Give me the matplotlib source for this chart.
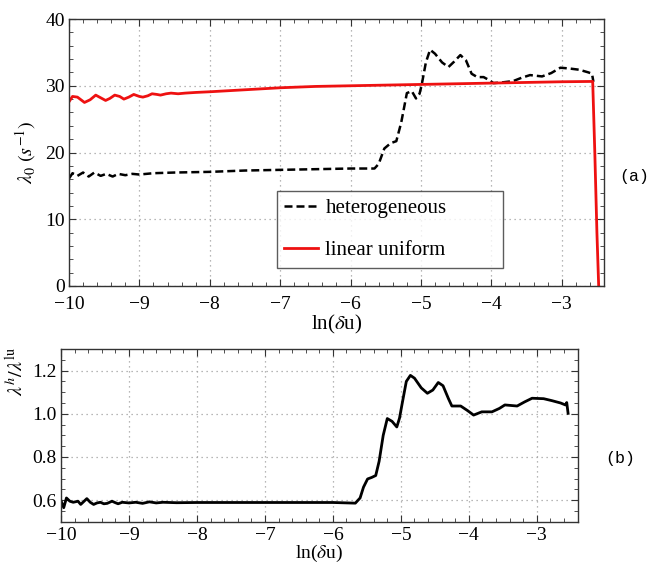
import numpy as np
import matplotlib
matplotlib.use("Agg")
import matplotlib.pyplot as plt
from matplotlib.ticker import MultipleLocator

plt.rcParams['font.family'] = ['Liberation Serif', 'DejaVu Serif']
plt.rcParams['mathtext.fontset'] = 'stix'

# panel (a): heterogeneous, dashed black
het_x = [-10.0, -9.95, -9.88, -9.8, -9.72, -9.64, -9.55, -9.47, -9.38, -9.3, -9.2,
         -9.1, -9.0, -8.8, -8.5, -8.0, -7.5, -7.0, -6.5, -6.0, -5.8, -5.66,
         -5.6, -5.52, -5.43, -5.35, -5.28, -5.2, -5.13, -5.07, -5.02, -4.99,
         -4.93, -4.87, -4.8, -4.7, -4.61, -4.53, -4.44, -4.36, -4.28, -4.2,
         -4.11, -4.04, -3.97, -3.85, -3.69, -3.57, -3.45, -3.28, -3.15, -3.02,
         -2.9, -2.75, -2.62, -2.57, -2.55]
het_y = [16.1, 16.9, 16.5, 17.0, 16.4, 17.0, 16.5, 16.8, 16.4, 16.8, 16.6,
         16.8, 16.7, 16.9, 17.0, 17.1, 17.3, 17.4, 17.5, 17.6, 17.6, 17.6,
         18.3, 20.6, 21.4, 21.7, 24.5, 28.9, 29.2, 28.1, 28.8, 30.1,
         33.5, 35.4, 34.8, 33.5, 32.8, 33.6, 34.6, 33.8, 31.8, 31.3,
         31.3, 30.9, 30.4, 30.5, 30.7, 31.2, 31.6, 31.4, 31.9, 32.7,
         32.6, 32.4, 32.0, 31.8, 30.6]

# panel (a): linear uniform, solid red
lin_x = [-10.0, -9.95, -9.88, -9.78, -9.7, -9.62, -9.55, -9.48, -9.42, -9.35,
         -9.28, -9.22, -9.15, -9.08, -9.0, -8.95, -8.88, -8.82, -8.75, -8.7,
         -8.62, -8.55, -8.45, -8.35, -8.2, -8.0, -7.5, -7.0, -6.5, -6.0,
         -5.0, -4.0, -3.0, -2.56, -2.53, -2.5, -2.475]
lin_y = [27.6, 28.4, 28.3, 27.5, 27.9, 28.6, 28.2, 27.8, 28.1, 28.6,
         28.4, 28.0, 28.3, 28.7, 28.4, 28.3, 28.5, 28.8, 28.7, 28.6,
         28.8, 28.9, 28.8, 28.9, 29.0, 29.1, 29.4, 29.7, 29.9, 30.0,
         30.2, 30.4, 30.6, 30.65, 20.0, 8.0, 0.0]

# panel (b): ratio lambda^h / lambda^lu
rat_x = [-10.0, -9.96, -9.92, -9.87, -9.82, -9.75, -9.71, -9.66, -9.62, -9.57,
         -9.52, -9.47, -9.42, -9.37, -9.32, -9.25, -9.2, -9.16, -9.1, -9.0,
         -8.9, -8.8, -8.7, -8.6, -8.5, -8.3, -8.0, -7.0, -6.0, -5.67,
         -5.6, -5.55, -5.49, -5.43, -5.37, -5.32, -5.26, -5.2, -5.13,
         -5.06, -5.02, -4.98, -4.92, -4.86, -4.8, -4.7, -4.61, -4.53,
         -4.45, -4.38, -4.3, -4.25, -4.12, -4.02, -3.93, -3.81, -3.66,
         -3.55, -3.47, -3.29, -3.18, -3.07, -2.9, -2.78, -2.65, -2.58,
         -2.56, -2.54]
rat_y = [0.597, 0.565, 0.61, 0.595, 0.59, 0.595, 0.58, 0.595, 0.607, 0.59,
         0.58, 0.587, 0.59, 0.583, 0.585, 0.595, 0.588, 0.583, 0.59, 0.587,
         0.59, 0.585, 0.592, 0.587, 0.59, 0.588, 0.589, 0.589, 0.589, 0.586,
         0.61, 0.66, 0.698, 0.705, 0.714, 0.78, 0.9, 0.978, 0.965,
         0.939, 0.98, 1.049, 1.15, 1.178, 1.165, 1.12, 1.095, 1.11,
         1.145, 1.13, 1.07, 1.036, 1.036, 1.015, 0.994, 1.009, 1.009,
         1.025, 1.041, 1.036, 1.055, 1.072, 1.07, 1.061, 1.05, 1.041,
         1.052, 1.002]

tick_font = 14
grid_kw = dict(color='#a0a0a0', linestyle=(0, (1, 3)), linewidth=0.9)


def style_axes(ax, xpad):
    for s in ax.spines.values():
        s.set_color('#333333')
        s.set_linewidth(1.0)
    ax.tick_params(which='both', direction='in', top=True, right=True,
                   color='#333333', labelsize=tick_font)
    ax.tick_params(which='major', length=5, width=0.8)
    ax.tick_params(which='minor', length=3, width=0.6)
    ax.tick_params(axis='x', which='major', pad=xpad)
    ax.tick_params(axis='y', which='major', pad=3)
    ax.grid(True, which='major', **grid_kw)
    ax.set_axisbelow(True)


fig = plt.figure(figsize=(6.49, 5.68), dpi=100)

ax1 = fig.add_axes([0.1063, 0.4965, 0.8243, 0.470])
ax1.plot(het_x, het_y, color='black', linestyle=(0, (3.2, 1.6)), linewidth=1.8,
         label='heterogeneous')
ax1.plot(lin_x, lin_y, color='#ee1111', linewidth=2.0, label='linear uniform')
ax1.set_xlim(-10, -2.4)
ax1.set_ylim(0, 40)
ax1.xaxis.set_major_locator(MultipleLocator(1))
ax1.xaxis.set_minor_locator(MultipleLocator(0.2))
ax1.yaxis.set_major_locator(MultipleLocator(10))
ax1.yaxis.set_minor_locator(MultipleLocator(2))
style_axes(ax1, 7)
ax1.set_xlabel(r'ln($\delta$u)', fontsize=15, labelpad=0)
ax1.set_ylabel(r'$\lambda_0\ (s^{-1})$', fontsize=14.5)
ax1.yaxis.set_label_coords(-0.058, 0.5)
leg = ax1.legend(loc='lower left', bbox_to_anchor=(0.388, 0.0685, 0.424, 0.3035),
                 mode='expand', fontsize=15, frameon=True, fancybox=False,
                 handlelength=1.65, handletextpad=0.34, labelspacing=1.1,
                 borderpad=0.35, borderaxespad=0)
leg.get_frame().set_edgecolor('#333333')
leg.get_frame().set_linewidth(1.0)
fig.text(0.978, 0.69, '(a)', family='Liberation Mono', fontsize=12,
         ha='center', va='center')

ax2 = fig.add_axes([0.094, 0.0815, 0.796, 0.304])
ax2.plot(rat_x, rat_y, color='black', linewidth=2.0)
ax2.set_xlim(-10, -2.4)
ax2.set_ylim(0.5, 1.3)
ax2.xaxis.set_major_locator(MultipleLocator(1))
ax2.xaxis.set_minor_locator(MultipleLocator(0.2))
ax2.set_yticks([0.6, 0.8, 1.0, 1.2])
ax2.yaxis.set_minor_locator(MultipleLocator(0.05))
ax2.yaxis.set_major_formatter(matplotlib.ticker.FormatStrFormatter('%.1f'))
style_axes(ax2, 4)
ax2.set_xlabel(r'ln($\delta$u)', fontsize=14, labelpad=-1)
ax2.set_ylabel(r'$\lambda^h/\lambda^{\mathrm{lu}}$', fontsize=14.5)
ax2.yaxis.set_label_coords(-0.064, 0.87)
fig.text(0.955, 0.192, '(b)', family='Liberation Mono', fontsize=12,
         ha='center', va='center')

fig.savefig('out.png', dpi=100)
